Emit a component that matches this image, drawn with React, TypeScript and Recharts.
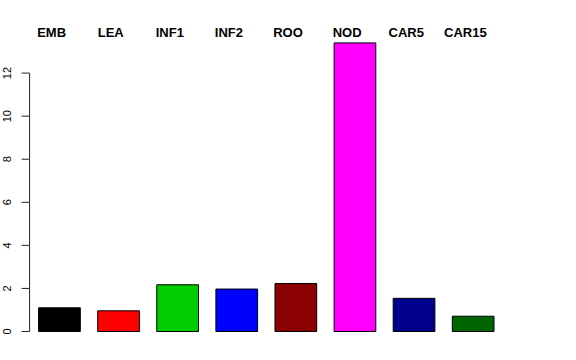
import { BarChart, Bar, XAxis, YAxis, Cell } from 'recharts';

const tissues = ['EMB', 'LEA', 'INF1', 'INF2', 'ROO', 'NOD', 'CAR5', 'CAR15'];
const expression = [1.1, 0.96, 2.17, 1.97, 2.23, 13.4, 1.54, 0.71];
const barColors = ['#000000', '#ff0000', '#00cd00', '#0000ff', '#8b0000', '#ff00ff', '#00008b', '#006400'];
const yTicks = [0, 2, 4, 6, 8, 10, 12];

const data = tissues.map((t, i) => ({ tissue: t, value: expression[i] }));

const W = 576;
const H = 360;
const plotTop = 30;
const plotBottom = 331.5;
const yMax = 14;
const unit = (plotBottom - plotTop) / yMax;

function YTick(props: any) {
  const { x, y, payload } = props;
  const v = payload.value;
  return (
    <g>
      <line x1={x - 8} y1={y} x2={x} y2={y} stroke="#222" strokeWidth={1} />
      {v > 0 && <line x1={x} y1={y} x2={x} y2={y + 2 * unit} stroke="#222" strokeWidth={1} />}
      <text
        x={x - 19}
        y={y}
        transform={`rotate(-90 ${x - 19} ${y})`}
        textAnchor="middle"
        fontSize={11}
        fontFamily="Liberation Sans, Arial, sans-serif"
        fill="#000"
      >
        {v}
      </text>
    </g>
  );
}

function TopTick(props: any) {
  const { x, payload } = props;
  return (
    <text
      x={x - 7.5}
      y={37}
      textAnchor="middle"
      fontSize={13}
      fontWeight="bold"
      fontFamily="Liberation Sans, Arial, sans-serif"
      fill="#000"
    >
      {payload.value}
    </text>
  );
}

export default function App() {
  return (
    <div style={{ position: 'absolute', left: 0, top: 0, width: W, height: H, background: '#fff' }}>
      <BarChart
        width={W}
        height={H}
        data={data}
        margin={{ top: plotTop - 10, right: 73.6, bottom: H - plotBottom, left: 0 }}
        barSize={41.7}
      >
        <XAxis dataKey="tissue" hide />
        <XAxis
          dataKey="tissue"
          xAxisId="top"
          orientation="top"
          height={10}
          axisLine={false}
          tickLine={false}
          interval={0}
          tick={<TopTick />}
        />
        <YAxis
          domain={[0, yMax]}
          ticks={yTicks}
          width={29.6}
          axisLine={false}
          tickLine={false}
          tickSize={0}
          tickMargin={0}
          interval={0}
          tick={<YTick />}
        />
        <Bar dataKey="value" stroke="#000" strokeWidth={1} isAnimationActive={false}>
          {data.map((d, i) => (
            <Cell key={d.tissue} fill={barColors[i]} />
          ))}
        </Bar>
      </BarChart>
    </div>
  );
}
